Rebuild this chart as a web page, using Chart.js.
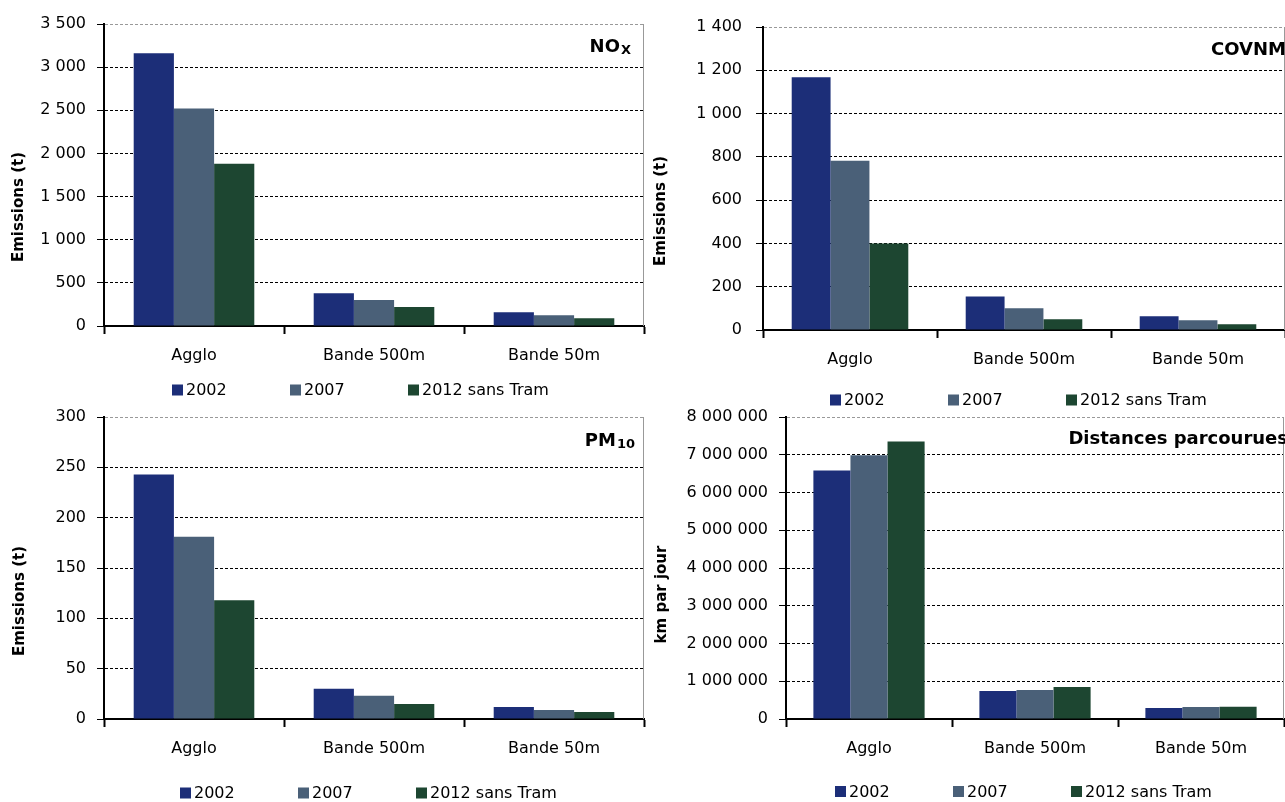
<!DOCTYPE html>
<html>
<head>
<meta charset="utf-8">
<title>Emissions</title>
<script src="https://cdn.jsdelivr.net/npm/chart.js@4.4.0/dist/chart.umd.min.js"></script>
<style>
  body { margin: 0; background: #fff; }
  canvas { position: absolute; left: 0; top: 0; }
</style>
</head>
<body>
<canvas id="noxChart" width="1285" height="802"></canvas>
<canvas id="covnmChart" width="1285" height="802"></canvas>
<canvas id="pmChart" width="1285" height="802"></canvas>
<canvas id="kmChart" width="1285" height="802"></canvas>
<script>
let categories = ['Agglo', 'Bande 500m', 'Bande 50m'];
let seriesNames = ['2002', '2007', '2012 sans Tram'];

// NOx (t)
let nox2002 = [3160, 380, 160];
let nox2007 = [2520, 300, 125];
let nox2012 = [1880, 220, 90];
let noxTicks = [0, 500, 1000, 1500, 2000, 2500, 3000, 3500];

// COVNM (t)
let covnm2002 = [1168, 155, 64];
let covnm2007 = [782, 100, 45];
let covnm2012 = [400, 50, 26];
let covnmTicks = [0, 200, 400, 600, 800, 1000, 1200, 1400];

// PM10 (t)
let pm2002 = [243, 30, 12];
let pm2007 = [181, 23, 9];
let pm2012 = [118, 15, 7];
let pmTicks = [0, 50, 100, 150, 200, 250, 300];

// km par jour
let km2002 = [6580000, 740000, 290000];
let km2007 = [6990000, 770000, 318000];
let km2012 = [7350000, 850000, 322000];
let kmTicks = [0, 1000000, 2000000, 3000000, 4000000, 5000000, 6000000, 7000000, 8000000];

let barColors = ['#1c2e78', '#4a6078', '#1d4631'];
let fontFamily = 'DejaVu Sans';

function spaced(v) {
    return String(v).replace(/\B(?=(\d{3})+(?!\d))/g, ' ');
}

// frame, axis title, pollutant name and legend
const decor = {
    id: 'decor',
    afterDraw(chart, args, o) {
        let ctx = chart.ctx;
        let area = chart.chartArea;
        ctx.save();
        ctx.strokeStyle = '#999';
        ctx.lineWidth = 1;
        ctx.beginPath();
        ctx.moveTo(area.right - 0.5, area.top);
        ctx.lineTo(area.right - 0.5, area.bottom);
        ctx.stroke();

        ctx.fillStyle = '#000';
        ctx.save();
        ctx.font = 'bold 15px "' + fontFamily + '"';
        ctx.textAlign = 'center';
        ctx.textBaseline = 'middle';
        ctx.translate(o.axisX, o.axisY);
        ctx.rotate(-Math.PI / 2);
        ctx.fillText(o.axisTitle, 0, 0);
        ctx.restore();

        ctx.textAlign = 'right';
        ctx.textBaseline = 'alphabetic';
        let x = o.nameRight;
        if (o.sub) {
            ctx.font = 'bold 13px "' + fontFamily + '"';
            ctx.fillText(o.sub, x, o.nameBase + 2);
            x -= ctx.measureText(o.sub).width + 1;
        }
        ctx.font = 'bold 18px "' + fontFamily + '"';
        ctx.fillText(o.name, x, o.nameBase);

        ctx.textAlign = 'left';
        ctx.textBaseline = 'middle';
        ctx.font = '16px "' + fontFamily + '"';
        chart.data.datasets.forEach((ds, i) => {
            let lx = o.legendX + i * 118;
            ctx.fillStyle = ds.backgroundColor;
            ctx.fillRect(lx, o.legendY - 5.5, 11, 11);
            ctx.fillStyle = '#000';
            ctx.fillText(ds.label, lx + 14, o.legendY + 1);
        });
        ctx.restore();
    }
};

function makeChart(id, values, ticks, deco) {
    let ctx = document.getElementById(id).getContext('2d');
    let top = ticks[ticks.length - 1];
    let font = { family: fontFamily, size: 16 };
    return new Chart(ctx, {
        type: 'bar',
        data: {
            labels: categories,
            datasets: values.map((v, i) => ({
                label: seriesNames[i],
                data: v,
                backgroundColor: barColors[i],
                borderWidth: 0,
                barPercentage: 1,
                categoryPercentage: 0.67
            }))
        },
        options: {
            responsive: false,
            animation: false,
            layout: {
                padding: {
                    left: deco.area[0] - 100,
                    top: deco.area[1],
                    right: 1285 - deco.area[2],
                    bottom: 802 - deco.area[3] - 40
                }
            },
            plugins: {
                legend: { display: false },
                tooltip: { enabled: false },
                decor: deco
            },
            scales: {
                x: {
                    offset: true,
                    grid: { drawOnChartArea: false, offset: true, tickLength: 8, tickColor: '#000', tickWidth: 2 },
                    border: { color: '#000', width: 2 },
                    ticks: { color: '#000', font: font, padding: 12, maxRotation: 0 },
                    afterFit: s => { s.height = 40; }
                },
                y: {
                    min: ticks[0],
                    max: top,
                    afterBuildTicks: s => { s.ticks = ticks.map(v => ({ value: v })); },
                    grid: {
                        color: c => (c.tick && c.tick.value === top) ? '#999' : '#000',
                        tickLength: 7,
                        tickColor: '#000',
                        tickBorderDash: []
                    },
                    border: { color: '#000', width: 2, dash: [3, 2] },
                    ticks: { color: '#000', font: font, padding: deco.tickPad, callback: v => spaced(v) },
                    afterFit: s => { s.width = 100; }
                }
            }
        },
        plugins: [decor]
    });
}

makeChart('noxChart', [nox2002, nox2007, nox2012], noxTicks, {
    area: [104, 24, 644, 326], tickPad: 11,
    axisTitle: 'Emissions (t)', axisX: 19.5, axisY: 207,
    name: 'NO', sub: 'X', nameRight: 631, nameBase: 52,
    legendX: 172, legendY: 390
});
makeChart('covnmChart', [covnm2002, covnm2007, covnm2012], covnmTicks, {
    area: [763, 27, 1285, 330], tickPad: 14,
    axisTitle: 'Emissions (t)', axisX: 661.5, axisY: 211,
    name: 'COVNM', sub: '', nameRight: 1286, nameBase: 55,
    legendX: 830, legendY: 400
});
makeChart('pmChart', [pm2002, pm2007, pm2012], pmTicks, {
    area: [104, 417, 644, 719], tickPad: 11,
    axisTitle: 'Emissions (t)', axisX: 19.8, axisY: 601,
    name: 'PM', sub: '10', nameRight: 635, nameBase: 446,
    legendX: 180, legendY: 793
});
makeChart('kmChart', [km2002, km2007, km2012], kmTicks, {
    area: [786, 417, 1284, 719], tickPad: 11,
    axisTitle: 'km par jour', axisX: 662.6, axisY: 594.5,
    name: 'Distances parcourues', sub: '', nameRight: 1288, nameBase: 444,
    legendX: 835, legendY: 791.5
});
</script>
</body>
</html>
